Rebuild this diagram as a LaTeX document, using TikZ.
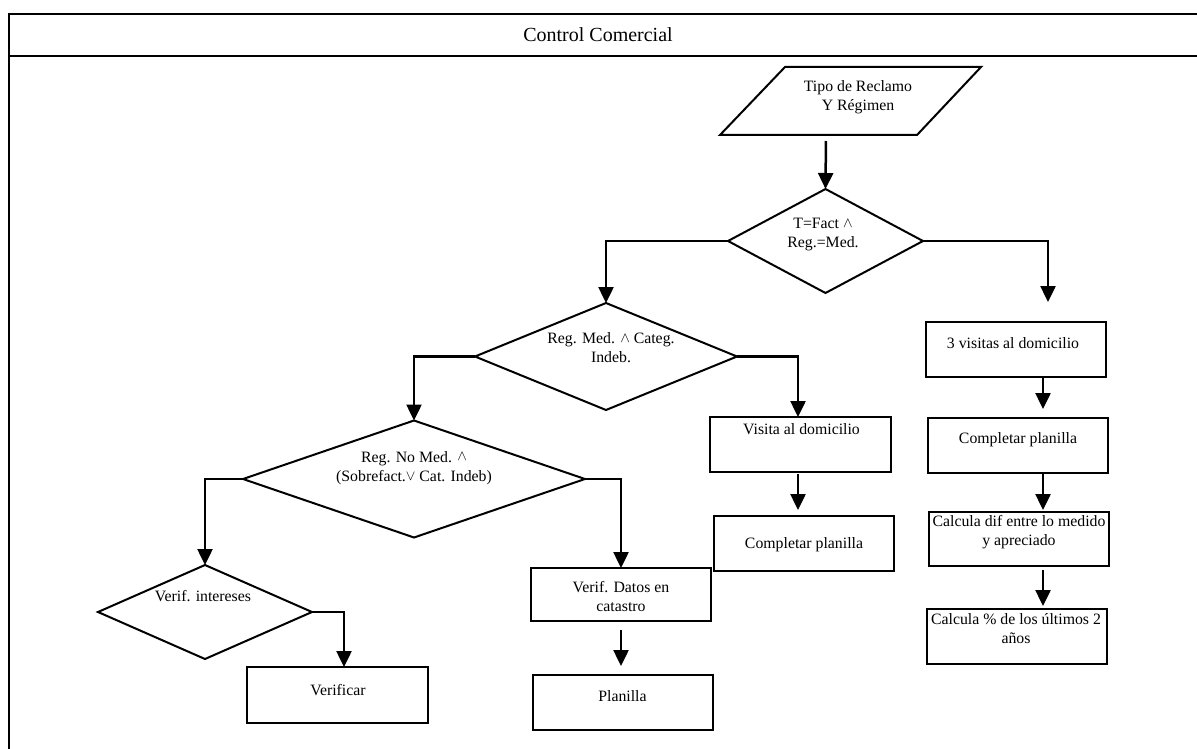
\documentclass[tikz,border=0pt]{standalone}
\usepackage{fontspec}
\setmainfont{Liberation Serif}
\usetikzlibrary{arrows.meta,shapes.geometric}
% small logical connectives set inside the labels
\newcommand{\yand}{{\fontsize{14}{14}\selectfont\raisebox{0.25ex}{$\wedge$}}}
\newcommand{\yor}{{\fontsize{14}{14}\selectfont\raisebox{0.1ex}{$\vee$}}}

\begin{document}
\begin{tikzpicture}[x=1pt,y=-1pt,
  frame/.style={line width=2.4pt},
  outline/.style={draw, line width=2pt, inner sep=0pt, outer sep=0pt},
  boxnode/.style={outline, rectangle, minimum width=180pt, minimum height=55pt},
  decision/.style={outline, diamond, inner sep=1pt},
  lbl/.style={font=\fontsize{15.8}{19}\selectfont, align=center, inner sep=0pt},
  heading/.style={font=\fontsize{20}{24}\selectfont, inner sep=0pt},
  flow/.style={line width=2.5pt, -{Triangle[length=16pt,width=15pt]}}
]
\useasboundingbox (0,0) rectangle (1197,749);

% page frame and title band
\draw[frame] (1197,14) -- (9,14) -- (9,749);
\draw[frame] (9,56) -- (1197,56);
\node[heading] (title) at (598,35) {Control Comercial};

% input parallelogram
\coordinate (pa) at (720,135);
\coordinate (pb) at (785,67);
\coordinate (pc) at (981,67);
\coordinate (pd) at (917,135);
\coordinate (ps) at (826,135);
\draw[line width=2pt] (pa) -- (pb) -- (pc) -- (pd) -- cycle;
\node[lbl] (p) at (858,97) {Tipo de Reclamo\\Y Régimen};

% decisions
\node[decision, minimum width=195pt, minimum height=104pt] (d1) at (825.5,241) {};
\node[lbl] (d1t) at (823,235) {T=Fact \yand\\Reg.=Med.};

\node[decision, minimum width=262pt, minimum height=107pt] (d2) at (606,356.5) {};
\node[lbl] (d2t) at (611,348) {Reg. Med. \yand{} Categ.\\Indeb.};

\node[decision, minimum width=342pt, minimum height=117pt] (d3) at (414,479) {};
\node[lbl] (d3t) at (414,468) {Reg. No Med. \yand\\(Sobrefact.\yor{} Cat. Indeb)};

\node[decision, minimum width=214pt, minimum height=94pt] (d4) at (205,612) {};
\node[lbl] (d4t) at (203,596) {Verif. intereses};

% right branch
\node[boxnode] (b1) at (1016,349) {};
\node[lbl] (b1t) at (1013,343) {3 visitas al domicilio};
\node[boxnode] (b2) at (1017.5,445.5) {};
\node[lbl] (b2t) at (1018,440) {Completar planilla};
\node[boxnode, minimum height=54pt] (b3) at (1019,539) {};
\node[lbl] (b3t) at (1019,532) {Calcula dif entre lo medido\\y apreciado};
\node[boxnode] (b4) at (1016.5,636.5) {};
\node[lbl] (b4t) at (1016,629) {Calcula \% de los últimos 2\\años};

% middle branch
\node[boxnode, minimum width=181pt] (v1) at (800.5,444.5) {};
\node[lbl] (v1t) at (801.5,429) {Visita al domicilio};
\node[boxnode] (v2) at (804,543.5) {};
\node[lbl] (v2t) at (804,545) {Completar planilla};

\node[boxnode, minimum height=53pt] (k1) at (621,594.5) {};
\node[lbl] (k1t) at (621,597) {Verif. Datos en\\catastro};
\node[boxnode] (k2) at (622.5,702.5) {};
\node[lbl] (k2t) at (622.5,696) {Planilla};

% left branch
\node[boxnode, minimum width=181pt, minimum height=56pt] (f1) at (337.5,695) {};
\node[lbl] (f1t) at (338,690) {Verificar};

% guide points for the connectors
\coordinate (t1) at (1048,302);
\coordinate (rx) at (1043,0);
\coordinate (vx) at (798,0);
\coordinate (fx) at (344,0);

% connectors
\draw[flow, shorten <=6pt] (ps) -- (d1.north);
\draw[flow] (d1.west) -| (d2.north);
\draw[flow] (d1.east) -| (t1);
\draw[flow, shorten >=9pt] (b1.south -| rx) -- (b2.north -| rx);
\draw[flow, shorten >=2pt] (b2.south -| rx) -- (b3.north -| rx);
\draw[flow, shorten <=4pt, shorten >=3pt] (b3.south -| rx) -- (b4.north -| rx);
\draw[flow] (d2.east) -| (v1.north -| vx);
\draw[flow, shorten <=2pt, shorten >=6pt] (v1.south -| vx) -- (v2.north -| vx);
\draw[flow] (d2.west) -| (d3.north);
\draw[flow] (d3.west) -| (d4.north);
\draw[flow] (d3.east) -| (k1.north);
\draw[flow, shorten <=9pt, shorten >=9pt] (k1.south) -- (k1.south |- k2.north);
\draw[flow] (d4.east) -| (f1.north -| fx);
\end{tikzpicture}
\end{document}
